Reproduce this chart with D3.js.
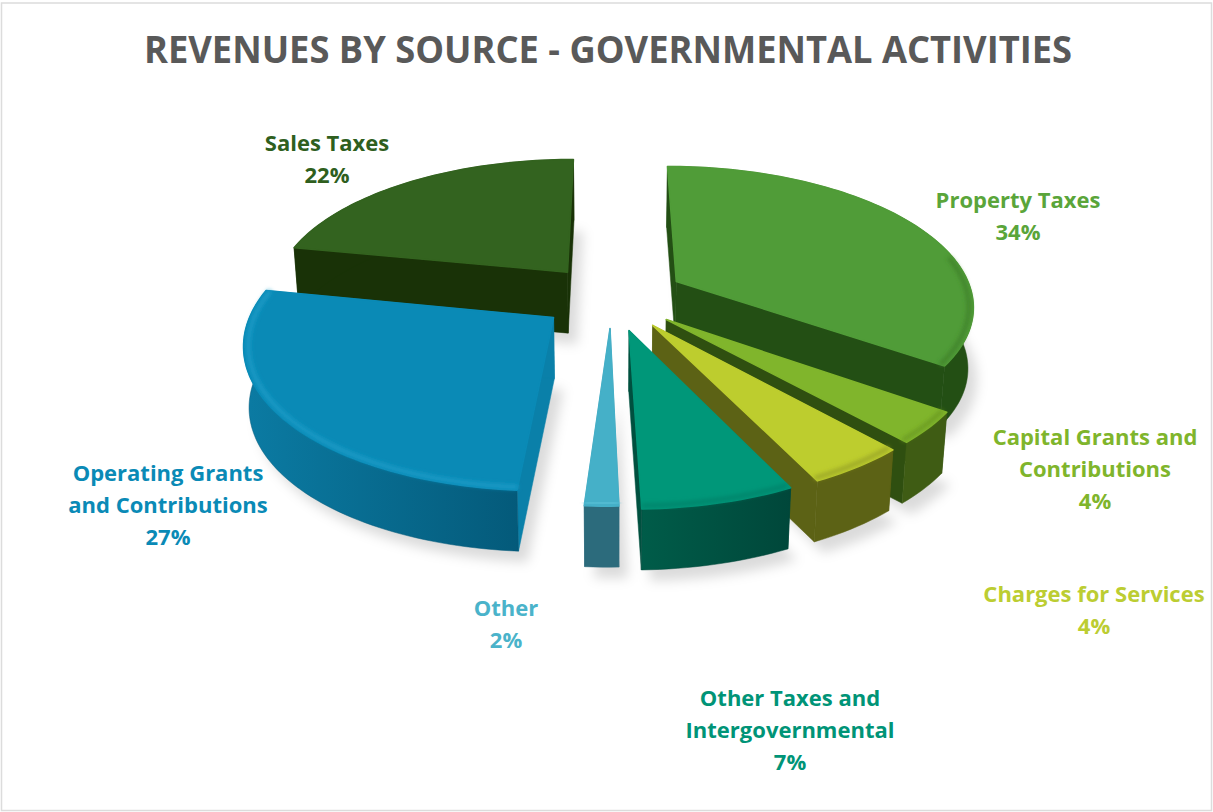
<!DOCTYPE html>
<html>
<head>
<meta charset="utf-8">
<script src="https://cdn.jsdelivr.net/npm/d3@7"></script>
<style>
  body { margin: 0; background: #fff; }
  text { font-family: "Open Sans", sans-serif; font-weight: 700; text-anchor: middle; }
</style>
</head>
<body>
<div id="chart"></div>
<script>
// data, clockwise from 12 o'clock
const categories = ["Property Taxes", "Capital Grants and Contributions", "Charges for Services",
  "Other Taxes and Intergovernmental", "Other", "Operating Grants and Contributions", "Sales Taxes"];
// printed percentages
const percents = [34, 4, 4, 7, 2, 27, 22];
// slice shares as measured on the picture, they differ a little from the printed ones
const shares = [34.8, 3.5, 4.5, 6.8, 1.5, 27.0, 21.9];
const labelLines = [["Property Taxes"], ["Capital Grants and", "Contributions"], ["Charges for Services"],
  ["Other Taxes and", "Intergovernmental"], ["Other"], ["Operating Grants", "and Contributions"], ["Sales Taxes"]];

// colours
const topColors  = ["#509c38", "#80b52c", "#bdcd2e", "#009779", "#45b0c8", "#0a8ab6", "#33631f"];
const rimColors  = ["#3f8229", "#6a9a24", "#9aa526", "#00836a", "#58c0d6", "#1a9cc8", "#33631f"];
const cutColors  = ["#234f14", "#2f4f10", "#5c6215", "#00503f", "#2c6b7c", "#0a80a9", "#193207"];
const wallLeft   = ["#234f14", "#3f5c14", "#5c6215", "#005c49", "#2c6b7c", "#0b7ba3", "#193207"];
const wallRight  = ["#234f14", "#3f5c14", "#5c6215", "#00473a", "#2c6b7c", "#045a7a", "#193207"];
const textColors = ["#5aa53a", "#7fb52c", "#bccd32", "#009477", "#4ab3ca", "#0a8ab6", "#2f5f1e"];

// layout
const width = 1213, height = 812;
const cx = 611.5, cy = 297, radiusX = 297, radiusY = 138;
const perspective = 0.16, depth = 61, depthShrink = 0.985;
const explode = [0.25, 0.24, 0.24, 0.24, 0.22, 0.24, 0.24];
const drawOrder = [6, 0, 1, 2, 3, 4, 5];
// label centre x and first baseline
const labelX = [1018, 1095, 1094, 790, 506, 168, 327];
const labelY = [208, 445, 602, 706, 616, 481, 151];
const lineGap = 32;

const x = d3.scaleLinear().domain([-1, 1]).range([-radiusX, radiusX]);
const y = d3.scaleLinear().domain([-1, 1]).range([-radiusY, radiusY]);

const pie = d3.pie().sort(null).value(d => d);
const slices = pie(shares);

// disk coordinates to screen, with foreshortening toward the back
function project(angle, r, d) {
  const mid = (d.startAngle + d.endAngle) / 2;
  const e = explode[d.index];
  const u = Math.sin(angle) * r + Math.sin(mid) * e;
  const v = -Math.cos(angle) * r - Math.cos(mid) * e;
  const s = 1 / (1 - perspective * v);
  return [cx + x(u) * s, cy + y(v) * s];
}
function drop(p) {
  return [cx + (p[0] - cx) * depthShrink, p[1] + depth];
}
function rimAngles(d) {
  const n = Math.max(4, Math.round((d.endAngle - d.startAngle) * 40));
  return d3.range(n + 1).map(i => d.startAngle + (d.endAngle - d.startAngle) * i / n);
}
function rim(d, r) {
  return rimAngles(d).map(a => project(a, r, d));
}
const line = d3.line();
const closed = pts => line(pts) + "Z";

const svg = d3.select("#chart").append("svg")
  .attr("width", width).attr("height", height);

const defs = svg.append("defs");
defs.append("filter").attr("id", "soft").attr("x", "-20%").attr("y", "-20%").attr("width", "140%").attr("height", "140%")
  .append("feGaussianBlur").attr("stdDeviation", 6);
defs.append("filter").attr("id", "bevel").attr("x", "-20%").attr("y", "-20%").attr("width", "140%").attr("height", "140%")
  .append("feGaussianBlur").attr("stdDeviation", 2.2);

slices.forEach((d, i) => {
  const g = defs.append("linearGradient").attr("id", "wall" + i);
  g.append("stop").attr("offset", "0%").attr("stop-color", wallLeft[i]);
  g.append("stop").attr("offset", "100%").attr("stop-color", wallRight[i]);
});

// frame
svg.append("rect").attr("x", 1.5).attr("y", 3).attr("width", width - 3).attr("height", height - 4.5)
  .attr("fill", "#fff").attr("stroke", "#dcdcdc").attr("stroke-width", 1.5);

// title
svg.append("text").attr("x", 608).attr("y", 63)
  .attr("font-size", 38).attr("fill", "#595959")
  .attr("textLength", 928).attr("lengthAdjust", "spacingAndGlyphs")
  .text("REVENUES BY SOURCE - GOVERNMENTAL ACTIVITIES");

// soft shadows under everything
svg.append("g").attr("transform", "translate(9,11)").attr("filter", "url(#soft)")
  .selectAll("path").data(slices).join("path")
  .attr("fill", "#000").attr("fill-opacity", 0.14)
  .attr("d", d => closed([drop(project(0, 0, d)), ...rim(d, 1).map(drop)]));

// slices, back to front
drawOrder.forEach(i => {
  const d = slices[i];
  const pts = rim(d, 1);
  const apex = project(0, 0, d);
  const g = svg.append("g").attr("class", "slice");

  // cut faces
  [pts[0], pts[pts.length - 1]].forEach(p => {
    g.append("path")
      .attr("d", closed([apex, p, drop(p), drop(apex)]))
      .attr("fill", cutColors[i]).attr("stroke", cutColors[i]).attr("stroke-width", 0.5);
  });
  // outer wall
  g.append("path")
    .attr("d", closed([...pts, ...pts.map(drop).reverse()]))
    .attr("fill", `url(#wall${i})`).attr("stroke", wallRight[i]).attr("stroke-width", 0.5);

  // top face
  g.append("path")
    .attr("d", closed([apex, ...pts]))
    .attr("fill", topColors[i]).attr("stroke", topColors[i])
    .attr("stroke-width", 1.5).attr("stroke-linejoin", "round");

  // rounded rim, only on the side that faces us
  const front = rimAngles(d).filter(a => Math.cos(a) < 0.2).map(a => project(a, 0.985, d));
  if (front.length > 1) {
    g.append("path")
      .attr("d", line(front))
      .attr("fill", "none").attr("stroke", rimColors[i])
      .attr("stroke-width", 4).attr("filter", "url(#bevel)");
  }
});

// labels
const labels = svg.append("g").selectAll("text")
  .data(categories).join("text")
  .attr("fill", (d, i) => textColors[i])
  .attr("font-size", 22);

labels.each(function (d, i) {
  const rows = [...labelLines[i], percents[i] + "%"];
  d3.select(this).selectAll("tspan").data(rows).join("tspan")
    .attr("x", labelX[i])
    .attr("y", (t, j) => labelY[i] + j * lineGap)
    .text(t => t);
});
</script>
</body>
</html>
